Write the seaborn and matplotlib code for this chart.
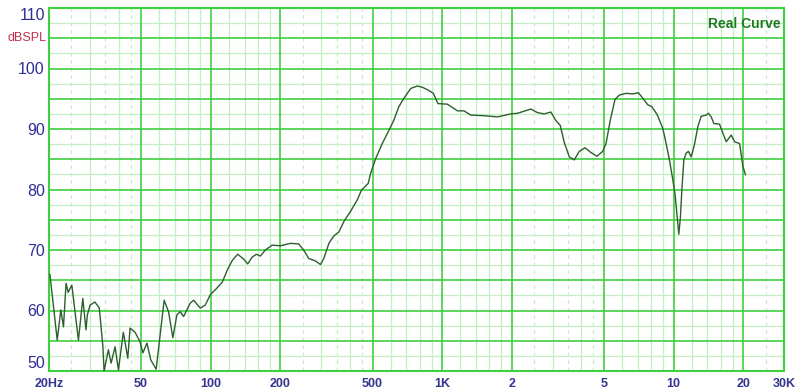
import numpy as np
import pandas as pd
import matplotlib
matplotlib.use("Agg")
import matplotlib.pyplot as plt
import seaborn as sns

# ---- data (frequency in Hz, level in dB SPL) ----
freq_hz = [20.0, 20.2, 21.7, 22.5, 23.1, 23.7, 24.2, 25.1, 26.8, 28.0, 28.9, 29.3, 30.1, 31.6, 33.0,
           34.2, 34.6, 36.1, 37.1, 38.6, 39.9, 41.9, 43.8, 44.8, 47.1, 49.5, 50.9, 53.0, 55.1, 58.1,
           60.1, 62.9, 65.7, 68.6, 71.4, 73.8, 76.3, 81.5, 84.3, 90.1, 94.7, 99.5, 105.7, 112.2, 117.9,
           124.0, 130.7, 138.7, 144.4, 150.8, 157.5, 163.9, 172.2, 184.1, 200, 221, 240, 252, 265,
           283, 298, 308, 324, 340, 358, 376, 402, 430, 448, 479, 491, 516, 551, 589, 619,
           650, 684, 731, 781, 821, 863, 916, 959, 1054, 1164, 1243, 1329, 1518, 1735, 1980,
           2116, 2418, 2584, 2760, 2950, 3100, 3238, 3368, 3542, 3722, 3912, 4140, 4396, 4666,
           4940, 5106, 5330, 5584, 5828, 6230, 6660, 7044, 7358, 7734, 8050, 8488, 8984, 9284,
           9594, 9924, 10154, 10308, 10536, 10706, 10856, 11074, 11330, 11594, 11910, 12308,
           12732, 13158, 13830, 14152, 14540, 14936, 15792, 16336, 16884, 17748, 18340, 19276,
           19940, 20460]
level_db = [66.0, 65.9, 55.1, 60.1, 57.3, 64.5, 63.0, 64.2, 55.1, 62.0, 56.8, 59.3, 60.9, 61.4, 60.4,
            54.0, 50.0, 53.5, 51.3, 54.0, 50.2, 56.4, 52.1, 57.1, 56.4, 54.8, 53.0, 54.6, 51.8, 50.3,
            55.1, 61.7, 59.8, 55.5, 59.3, 59.8, 59.0, 61.2, 61.7, 60.4, 60.9, 62.6, 63.6, 64.7, 66.7,
            68.3, 69.3, 68.5, 67.7, 68.8, 69.3, 69.0, 70.0, 70.8, 70.7, 71.1, 71.0, 70.0, 68.6,
            68.2, 67.6, 68.6, 71.1, 72.3, 73.0, 74.7, 76.4, 78.3, 79.9, 81.0, 82.7, 85.1, 87.6, 89.8, 91.5,
            93.7, 95.1, 96.7, 97.1, 96.9, 96.5, 95.9, 94.2, 94.1, 93.0, 93.0, 92.3, 92.2, 92.0, 92.5,
            92.6, 93.3, 92.7, 92.5, 92.8, 91.4, 90.6, 87.8, 85.4, 84.9, 86.3, 86.9, 86.1, 85.5,
            86.3, 87.6, 91.5, 94.9, 95.6, 95.9, 95.8, 96.0, 95.1, 94.0, 93.7, 92.4, 90.1, 87.6,
            84.9, 81.6, 79.1, 76.5, 72.6, 75.5, 79.9, 84.9, 86.0, 86.3, 85.4, 87.4,
            90.4, 92.1, 92.3, 92.6, 92.0, 90.9, 90.8, 89.3, 87.9, 89.0, 87.9, 87.6,
            83.8, 82.4]

x_tick_values = [20, 50, 100, 200, 500, 1000, 2000, 5000, 10000, 20000, 30000]
x_tick_labels = ["20Hz", "50", "100", "200", "500", "1K", "2", "5", "10", "20", "30K"]
y_tick_values = [50, 60, 70, 80, 90, 100, 110]

df = pd.DataFrame({"freq": freq_hz, "db": level_db})

sns.set_style("white")
plt.rcParams["font.family"] = ["Liberation Sans", "DejaVu Sans"]

fig = plt.figure(figsize=(8.0, 3.92), dpi=100)
ax = fig.add_axes([49 / 800, 1 - 371 / 392, (784 - 49) / 800, (371 - 8) / 392])

major_c = "#3fcf3f"
minor_c = "#c4efc4"

# grid: horizontal
for v in np.arange(52.5, 110, 5.0):
    ax.axhline(v, color=minor_c, lw=0.9, zorder=0)
for v in np.arange(55, 110, 5.0):
    ax.axhline(v, color=major_c, lw=1.2, zorder=1)

# grid: vertical
for dec in [10, 100, 1000, 10000]:
    for m in [1.2, 1.4, 1.6, 1.8, 3, 4, 6, 7, 8, 9]:
        f = m * dec
        if 20 < f < 30000:
            ax.axvline(f, color=minor_c, lw=0.9, zorder=0)
    for m in [2.5, 3.5, 4.5]:
        f = m * dec
        if 20 < f < 30000:
            ax.axvline(f, color=minor_c, lw=0.9, ls=(0, (3, 3)), zorder=0)
for f in [50, 100, 200, 500, 1000, 2000, 5000, 10000, 20000]:
    ax.axvline(f, color=major_c, lw=1.2, zorder=1)

sns.lineplot(data=df, x="freq", y="db", ax=ax, color="#2d5e2d", lw=1.0, zorder=3)

ax.set_xscale("log")
ax.set_xlim(20, 30000)
ax.set_ylim(50, 110)
ax.set_xlabel("")
ax.set_ylabel("")

ax.set_xticks(x_tick_values)
ax.set_xticklabels(x_tick_labels)
ax.xaxis.set_minor_locator(matplotlib.ticker.NullLocator())
ax.set_yticks(y_tick_values)
ax.tick_params(axis="both", length=0)
ax.tick_params(axis="x", pad=5, labelsize=9, labelcolor="#34348f")
ax.tick_params(axis="y", pad=3, labelsize=11.5, labelcolor="#2e2e96")
for lab in ax.get_xticklabels():
    lab.set_fontweight("bold")
ylabs = ax.get_yticklabels()
ylabs[0].set_va("bottom")
ylabs[-1].set_va("top")

for s in ax.spines.values():
    s.set_color(major_c)
    s.set_linewidth(1.5)

fig.text(47 / 800, 1 - 38 / 392, "dBSPL", color="#c2304c", fontsize=9,
         ha="right", va="center")
ax.text(0.995, 0.955, "Real Curve", transform=ax.transAxes, color="#1f7a1f",
        fontsize=10, fontweight="bold", ha="right", va="center")

fig.savefig("out.png", dpi=100, facecolor="white")
